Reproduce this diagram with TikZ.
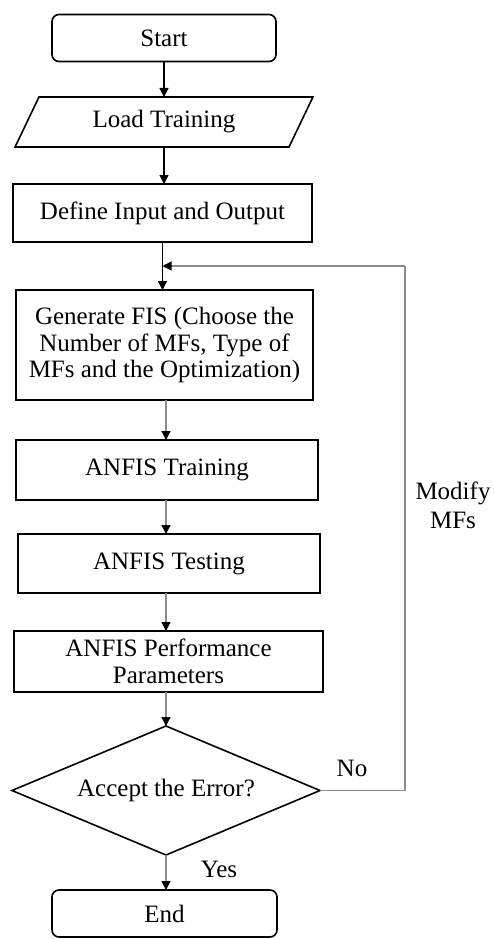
\documentclass[tikz,border=0pt]{standalone}
\usepackage{fontspec}
\setmainfont{Liberation Serif}
\usetikzlibrary{shapes.geometric,arrows.meta}
\begin{document}
\begin{tikzpicture}[x=1pt,y=-1pt,
  every node/.style={font=\fontsize{25}{26.5}\selectfont, inner sep=0pt, outer sep=0pt},
  box/.style={draw, line width=1.6pt, rectangle},
  term/.style={draw, line width=1.6pt, rectangle, rounded corners=7pt},
  arr/.style={line width=1.3pt, -{Triangle[length=9pt,width=9pt]}},
  garr/.style={line width=1.3pt, draw=black!45, -{Triangle[length=9pt,width=9pt,color=black]}},
  lbl/.style={align=center}]
\useasboundingbox (0,0) rectangle (493,939);
\node[term, minimum width=224pt, minimum height=47pt] (start) at (164,38) {Start};
\node[draw, line width=1.6pt, trapezium, trapezium left angle=59, trapezium right angle=121,
      trapezium stretches=true, minimum width=298pt, minimum height=50pt] (load) at (164,122) {Load Training};
\node[box, minimum width=299pt, minimum height=58pt] (define) at (162.5,213) {Define Input and Output};
\node[box, minimum width=297pt, minimum height=110pt, align=center] (gen) at (164.5,345)
  {Generate FIS (Choose the\\Number of MFs, Type of\\MFs and the Optimization)};
\node[box, minimum width=302pt, minimum height=60pt] (train) at (167,470) {ANFIS Training};
\node[box, minimum width=302pt, minimum height=59pt] (test) at (169,563.5) {ANFIS Testing};
\node[box, minimum width=309pt, minimum height=61pt, align=center] (perf) at (168.5,661.5)
  {ANFIS Performance\\Parameters};
\node[draw, line width=1.6pt, diamond, shape aspect=2.39, minimum width=308pt, minimum height=129pt] (dia) at (166,790.5) {Accept the Error?};
\node[term, minimum width=225pt, minimum height=47pt] (end) at (164.5,913.5) {End};
\coordinate (m) at (162.5,266);
\coordinate (fb) at (405,266);
\node[lbl] (no) at (352,768) {No};
\node[lbl] (yes) at (219,869) {Yes};
\node[lbl, font=\fontsize{25}{29}\selectfont] (mod) at (453,505) {Modify\\MFs};
\draw[arr] (start.south) -- (start.south |- load.north);
\draw[arr] (load.south) -- (load.south |- define.north);
\draw[arr] (define.south) -- (define.south |- gen.north);
\draw[garr] (fb) -- (m);
\draw[line width=1.3pt, draw=black!45] (dia.east) -| (fb);
\draw[garr] (166,400) -- (166,440);
\draw[garr] (166,500) -- (166,534);
\draw[garr] (166,593) -- (166,631);
\draw[garr] (166,692) -- (dia.north);
\draw[garr] (dia.south) -- (dia.south |- end.north);
\end{tikzpicture}
\end{document}
